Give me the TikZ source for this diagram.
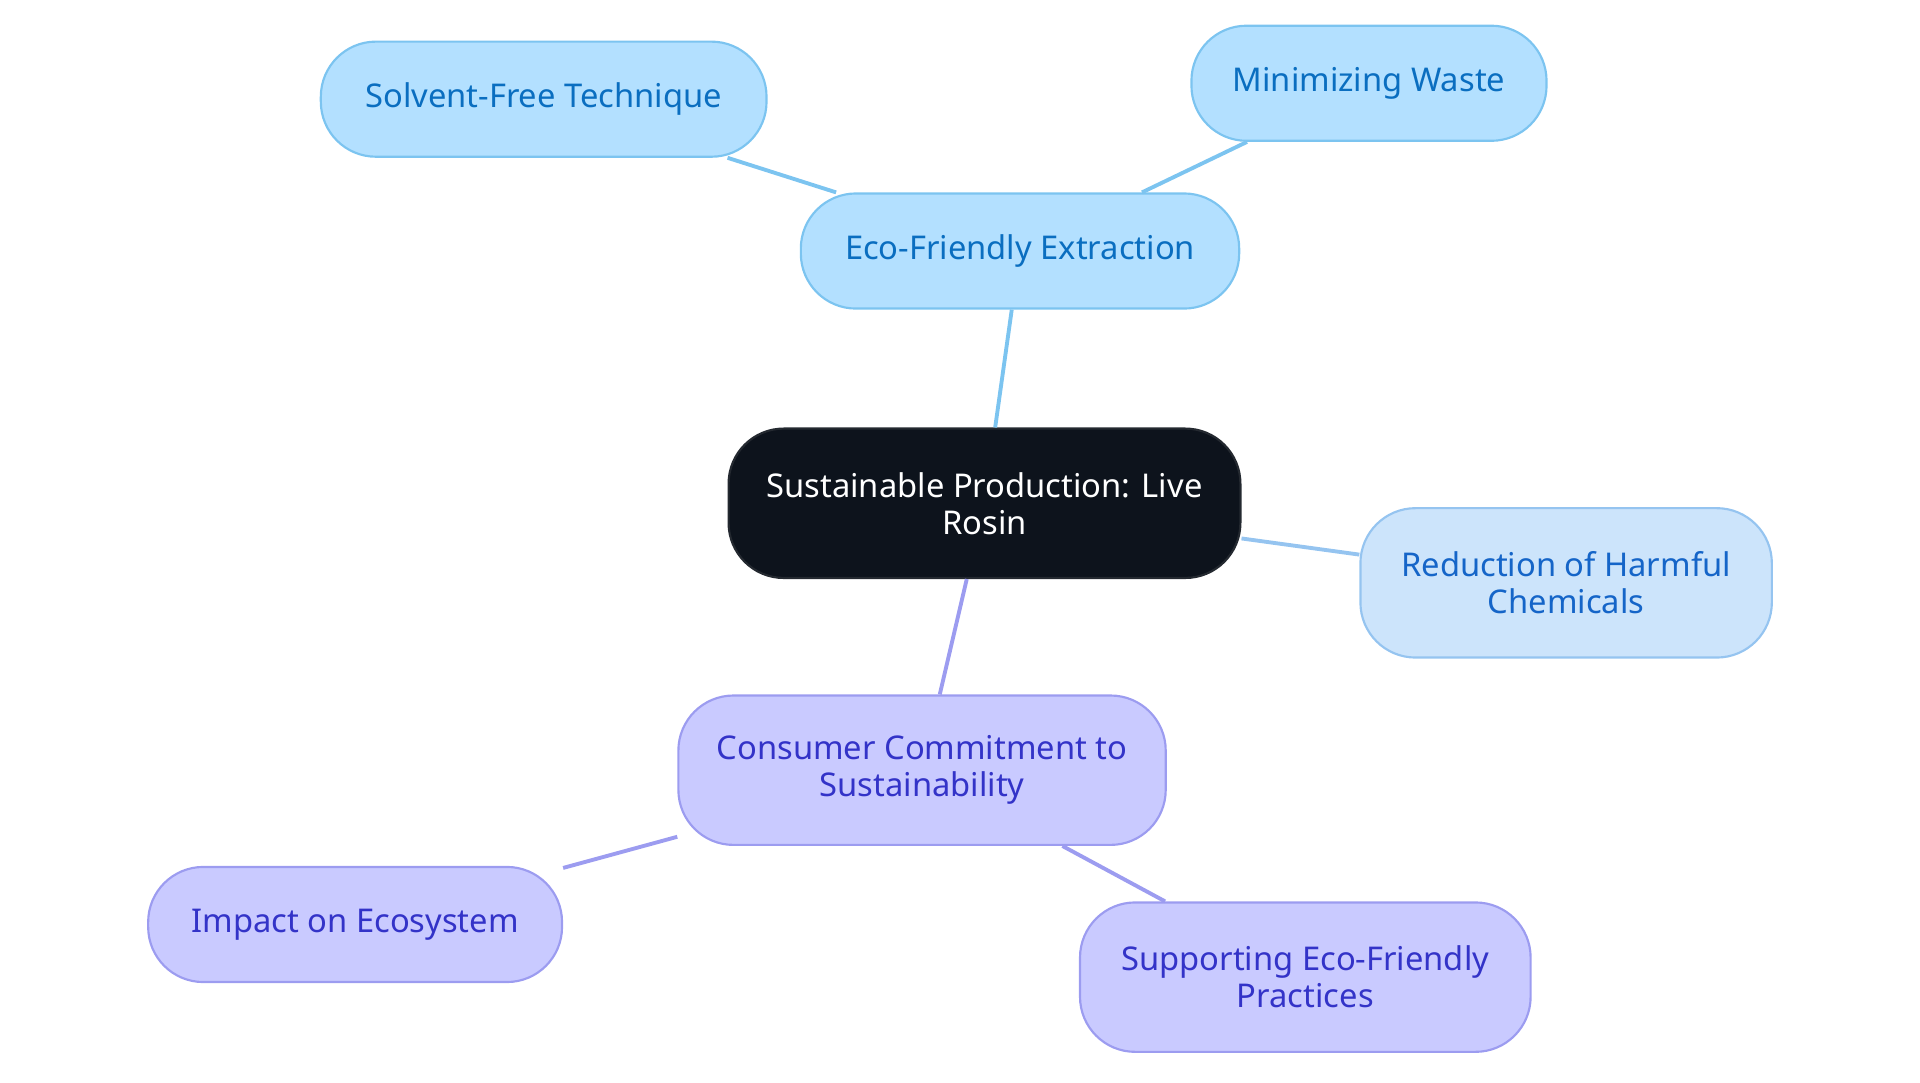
\documentclass[tikz,border=0pt]{standalone}
\usepackage{fontspec}
\setmainfont{Noto Sans}
\usetikzlibrary{positioning}
\definecolor{rootfill}{HTML}{0D131C}
\definecolor{bluefill}{HTML}{B3E0FF}
\definecolor{blueline}{HTML}{7CC4F0}
\definecolor{bluetext}{HTML}{0A6EC0}
\definecolor{lightfill}{HTML}{CCE4FB}
\definecolor{lightline}{HTML}{95C4F0}
\definecolor{lighttext}{HTML}{1565C8}
\definecolor{purpfill}{HTML}{C9CAFF}
\definecolor{purpline}{HTML}{9C9CF0}
\definecolor{purptext}{HTML}{3333C8}
\tikzset{
  topic/.style={rounded corners=0.45cm, draw, line width=0.5pt, align=center,
    font=\fontsize{7.6}{8.6}\selectfont, inner sep=0pt},
  rootnode/.style={topic, fill=rootfill, draw=rootfill!80!gray, text=white},
  bluenode/.style={topic, fill=bluefill, draw=blueline, text=bluetext},
  lightnode/.style={topic, fill=lightfill, draw=lightline, text=lighttext},
  purpnode/.style={topic, fill=purpfill, draw=purpline, text=purptext},
  edge/.style={line width=0.9pt}
}
\begin{document}
\begin{tikzpicture}
\useasboundingbox (0,0) rectangle (15.68,-8.84);

% the centre and its branches
\node[rootnode, minimum width=4.18cm, minimum height=1.22cm] (root) at (8.04,-4.11) {Sustainable Production: Live\\Rosin};
\node[bluenode, minimum width=3.58cm, minimum height=0.94cm] (eco) at (8.33,-2.05) {Eco-Friendly Extraction};
\node[bluenode, minimum width=3.64cm, minimum height=0.94cm] (solvent) at (4.44,-0.81) {Solvent-Free Technique};
\node[bluenode, minimum width=2.90cm, minimum height=0.94cm] (waste) at (11.18,-0.68) {Minimizing Waste};
\node[lightnode, minimum width=3.36cm, minimum height=1.22cm] (chem) at (12.79,-4.76) {Reduction of Harmful\\Chemicals};
\node[purpnode, minimum width=3.98cm, minimum height=1.22cm] (consumer) at (7.53,-6.29) {Consumer Commitment to\\Sustainability};
\node[purpnode, minimum width=3.38cm, minimum height=0.94cm] (impact) at (2.90,-7.55) {Impact on Ecosystem};
\node[purpnode, minimum width=3.68cm, minimum height=1.22cm] (support) at (10.66,-7.98) {Supporting Eco-Friendly\\Practices};

% connectors
\begin{scope}[on background layer/.style={}]
\draw[edge, color=blueline] (root) -- (eco);
\draw[edge, color=blueline] (eco) -- (solvent);
\draw[edge, color=blueline] (eco) -- (waste);
\draw[edge, color=lightline] (root) -- (chem);
\draw[edge, color=purpline] (root) -- (consumer);
\draw[edge, color=purpline] (consumer) -- (impact);
\draw[edge, color=purpline] (consumer) -- (support);
\end{scope}
\end{tikzpicture}
\end{document}
